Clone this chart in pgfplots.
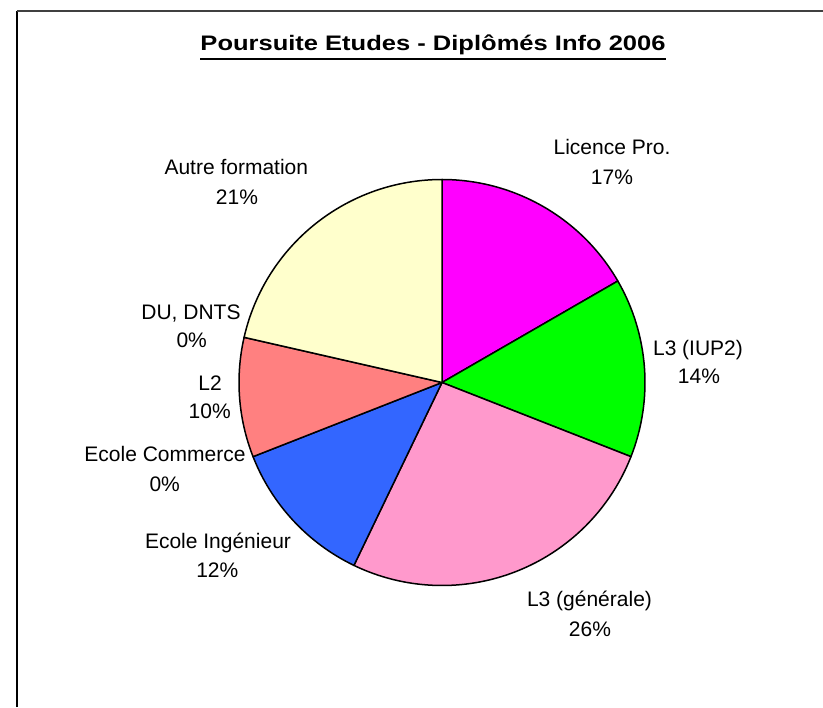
\documentclass[border=0pt]{standalone}
\usepackage{pgfplots}
\pgfplotsset{compat=1.18}
\usepackage{pgfplotstable}
\usepackage{graphicx}
\usepackage{fontspec}
\setmainfont{Liberation Sans}
\definecolor{cLP}{HTML}{FF00FF}
\definecolor{cIUP}{HTML}{00FF00}
\definecolor{cGen}{HTML}{FF99CC}
\definecolor{cIng}{HTML}{3366FF}
\definecolor{cCom}{HTML}{800080}
\definecolor{cL2}{HTML}{FF8080}
\definecolor{cDU}{HTML}{00CCFF}
\definecolor{cAutre}{HTML}{FFFFCC}
\definecolor{frametop}{HTML}{404040}
% counts per category, in drawing order (clockwise from the top)
\pgfplotstableread{
count color
7  cLP
6  cIUP
11 cGen
5  cIng
0  cCom
4  cL2
0  cDU
9  cAutre
}\piedata
\begin{document}
\begin{tikzpicture}
\begin{axis}[at={(0,0)},anchor=south west,
  width=411.5pt,height=353.5pt,scale only axis,hide axis,
  xmin=0,xmax=823,ymin=0,ymax=707,clip=false]
\pgfplotstablegetrowsof{\piedata}
\pgfmathtruncatemacro{\N}{\pgfplotsretval-1}
\def\total{0}
\pgfplotsforeachungrouped \i in {0,...,\N}{%
  \pgfplotstablegetelem{\i}{count}\of\piedata
  \pgfmathsetmacro{\total}{\total+\pgfplotsretval}%
}
\def\startang{90}
\pgfplotsforeachungrouped \i in {0,...,\N}{%
  \pgfplotstablegetelem{\i}{count}\of\piedata
  \let\cnt\pgfplotsretval
  \pgfplotstablegetelem{\i}{color}\of\piedata
  \let\col\pgfplotsretval
  \pgfmathsetmacro{\endang}{\startang-360*\cnt/\total}%
  \ifdim\cnt pt>0pt
    \edef\temp{\noexpand\filldraw[fill=\col,draw=black,line width=0.75pt,line join=round]
      (axis cs:442,324.5) -- ++(\startang:101.5pt)
      arc[start angle=\startang,end angle=\endang,radius=101.5pt] -- cycle;}%
    \temp
  \fi
  \let\startang\endang
}
% frame
\draw[black,line width=0.8pt] (axis cs:17,0) -- (axis cs:17,696);
\draw[frametop,line width=0.8pt] (axis cs:17,696) -- (axis cs:823,696);
% title
\node[anchor=base,font=\bfseries\fontsize{10.5}{12}\selectfont,inner sep=0pt]
  at (axis cs:433,656) {\scalebox{1.215}[1]{Poursuite Etudes - Diplômés Info 2006}};
\draw[line width=1pt] (axis cs:200,648) -- (axis cs:666,648);
% labels
\begin{scope}[every node/.style={anchor=base,inner sep=0pt,font=\fontsize{10.5}{12}\selectfont}]
\node at (axis cs:612,552) {Licence Pro.};
\node at (axis cs:612,522) {17\%};
\node at (axis cs:698,352) {L3 (IUP2)};
\node at (axis cs:699,323.7) {14\%};
\node at (axis cs:589.5,100.3) {L3 (générale)};
\node at (axis cs:590,71) {26\%};
\node at (axis cs:218,158.7) {Ecole Ingénieur};
\node at (axis cs:217.3,129.3) {12\%};
\node at (axis cs:165,245.3) {Ecole Commerce};
\node at (axis cs:164.7,216) {0\%};
\node at (axis cs:210,317) {L2};
\node at (axis cs:209.7,288.7) {10\%};
\node at (axis cs:191,387) {DU, DNTS};
\node at (axis cs:191.7,359.7) {0\%};
\node at (axis cs:236.3,532) {Autre formation};
\node at (axis cs:237,502.7) {21\%};
\end{scope}
\end{axis}
\pgfresetboundingbox
\useasboundingbox (0,0) rectangle (411.5pt,353.5pt);
\end{tikzpicture}
\end{document}
